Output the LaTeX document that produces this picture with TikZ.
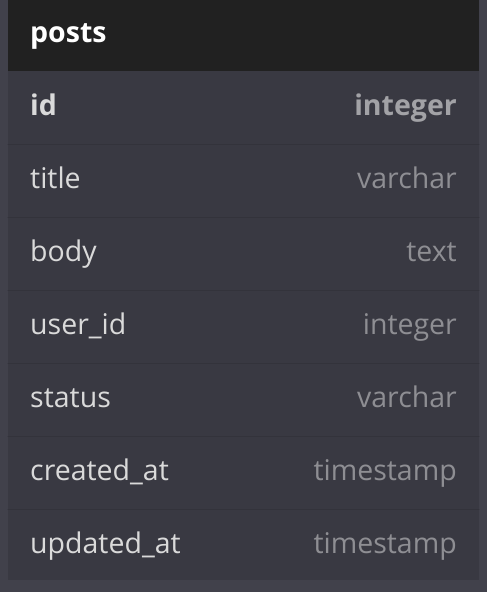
\documentclass[tikz,border=0pt]{standalone}
\usepackage{fontspec}
\setmainfont{Open Sans}
\usetikzlibrary{positioning}
\definecolor{outerbg}{HTML}{41414B}
\definecolor{headbg}{HTML}{212121}
\definecolor{rowbg}{HTML}{393942}
\definecolor{rowline}{HTML}{33333B}
\definecolor{nametext}{HTML}{DADADA}
\definecolor{typetext}{HTML}{8E8E93}
\definecolor{keytype}{HTML}{A2A2A6}
\tikzset{
  colname/.style={anchor=base west,text=nametext,font=\fontsize{28.5}{32}\selectfont,inner sep=0pt},
  coltype/.style={anchor=base east,text=typetext,font=\fontsize{28.5}{32}\selectfont,inner sep=0pt},
}
\begin{document}
\begin{tikzpicture}[x=1pt,y=-1pt,line cap=round,line join=round]
                \fill [outerbg] (0,0) rectangle (487,592);
                \useasboundingbox (0,0) rectangle (487,592);
                \fill [rowbg] (8,71) rectangle (479,580);
                \fill [headbg] (8,0) rectangle (479,71);
                \draw [rowline,line width=1pt] (8,144)-- (479,144);
                \draw [rowline,line width=1pt] (8,217)-- (479,217);
                \draw [rowline,line width=1pt] (8,290)-- (479,290);
                \draw [rowline,line width=1pt] (8,363)-- (479,363);
                \draw [rowline,line width=1pt] (8,436)-- (479,436);
                \draw [rowline,line width=1pt] (8,509)-- (479,509);
                \node [colname,text=white,font=\fontsize{28.5}{32}\selectfont\bfseries] (posts) at (30,42) {posts};
                \node [colname,font=\fontsize{28.5}{32}\selectfont\bfseries] (id) at (30,115) {id};
                \node [coltype,text=keytype,font=\fontsize{28.5}{32}\selectfont\bfseries] (idtype) at (457,115) {integer};
                \node [colname] (title) at (30,188) {title};
                \node [coltype] (titletype) at (457,188) {varchar};
                \node [colname] (body) at (30,261) {body};
                \node [coltype] (bodytype) at (457,261) {text};
                \node [colname] (userid) at (30,334) {user\_id};
                \node [coltype] (useridtype) at (457,334) {integer};
                \node [colname] (status) at (30,407) {status};
                \node [coltype] (statustype) at (457,407) {varchar};
                \node [colname] (created) at (30,480) {created\_at};
                \node [coltype] (createdtype) at (457,480) {timestamp};
                \node [colname] (updated) at (30,553) {updated\_at};
                \node [coltype] (updatedtype) at (457,553) {timestamp};
\end{tikzpicture}
\end{document}
